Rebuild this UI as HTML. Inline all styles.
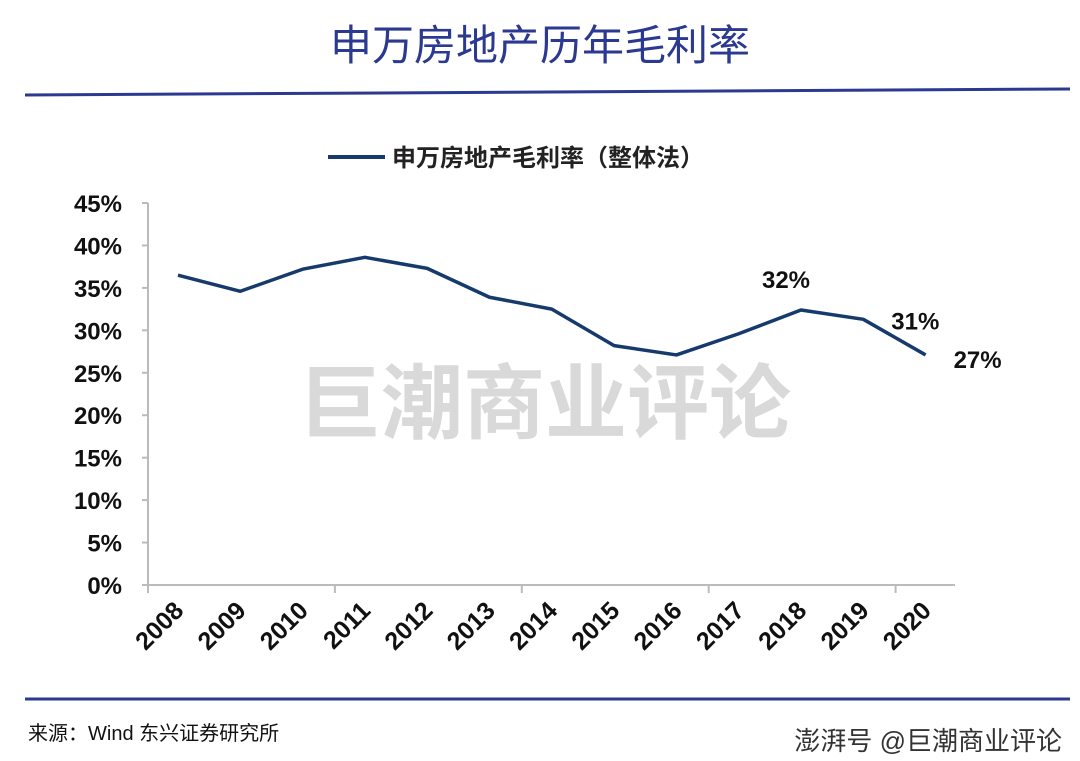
<!DOCTYPE html>
<html><head><meta charset="utf-8"><style>
body{margin:0;background:#fff;}
svg{display:block;font-family:"Liberation Sans","Noto Sans CJK SC",sans-serif;}
</style></head><body>
<svg width="1080" height="761" viewBox="0 0 1080 761">
<text x="540" y="60" text-anchor="middle" font-size="42" fill="#2b3990">申万房地产历年毛利率</text>
<line x1="25" y1="95" x2="1070" y2="89" stroke="#2b3990" stroke-width="3"/>
<g>
<line x1="328" y1="157" x2="385" y2="157" stroke="#163a6b" stroke-width="4"/>
<text x="392" y="166" font-size="24" font-weight="bold" fill="#222">申万房地产毛利率（整体法）</text>
</g>
<g id="axes"></g>
<g id="marks"></g>
<text x="545" y="432" text-anchor="middle" font-size="82" font-weight="bold" fill="#d9d9d9">巨潮商业评论</text>
<line x1="25" y1="699" x2="1070" y2="699" stroke="#2b3990" stroke-width="3"/>
<text x="28" y="740" font-size="20" fill="#111">来源：Wind  东兴证券研究所</text>
<text x="1062" y="750" text-anchor="end" font-size="26" fill="#333">澎湃号 @巨潮商业评论</text>
</svg>
<script>
const years=["2008","2009","2010","2011","2012","2013","2014","2015","2016","2017","2018","2019","2020"];
const margins=[36.5,34.6,37.2,38.6,37.3,33.9,32.5,28.2,27.1,29.6,32.4,31.3,27.1];
const yTicks=[0,5,10,15,20,25,30,35,40,45];
const annotations=[{i:10,text:"32%"},{i:11,text:"31%"},{i:12,text:"27%"}];
const NS="http://www.w3.org/2000/svg";
const x0=148,x1=955,yb=585,yt=203;
const step=62.3;
const xs=i=>178+i*step;
const ys=v=>yb-(v/45)*(yb-yt);
function mk(t,a,p){const e=document.createElementNS(NS,t);for(const k in a)e.setAttribute(k,a[k]);p.appendChild(e);return e;}
const ax=document.getElementById('axes'),mg=document.getElementById('marks');
let l=mk('line',{x1:x0,y1:yt,x2:x0,y2:yb,stroke:'#bbb','stroke-width':2},ax);


l=mk('line',{x1:x0,y1:yb,x2:x1,y2:yb,stroke:'#bbb','stroke-width':2},ax);


yTicks.forEach(v=>{const y=ys(v);
 const t=mk('line',{x1:x0-6,y1:y,x2:x0,y2:y,stroke:'#bbb','stroke-width':2},ax);
 
 
 const tx=mk('text',{x:122,y:y+9,'text-anchor':'end','font-size':24,'font-weight':'bold',fill:'#111'},ax);
 tx.textContent=v+'%';
 
 
});
for(let i=0;i<5;i++){const x=x0+i*3*step;
 const t=mk('line',{x1:x,y1:yb,x2:x,y2:yb+8,stroke:'#bbb','stroke-width':2},ax);
 
 }
years.forEach((yr,i)=>{const x=xs(i)+7,y=612;
 const t=mk('text',{x:x,y:y,'text-anchor':'end','font-size':25,'font-weight':'bold',fill:'#111',transform:`rotate(-45 ${x} ${y})`},ax);
 t.textContent=yr;
 
 
});
const p=mk('polyline',{points:margins.map((v,i)=>xs(i)+','+ys(v)).join(' '),fill:'none',stroke:'#163a6b','stroke-width':3.5,'stroke-linejoin':'round'},mg);


const offs={10:[-15,-22],11:[52,10],12:[52,13]};
annotations.forEach(a=>{const x=xs(a.i),y=ys(margins[a.i]);
 const o=offs[a.i]||[0,-20];
 const t=mk('text',{x:x+o[0],y:y+o[1],'text-anchor':'middle','font-size':24,'font-weight':'bold',fill:'#111'},mg);
 t.textContent=a.text;
 
 
});
</script>
</body></html>
